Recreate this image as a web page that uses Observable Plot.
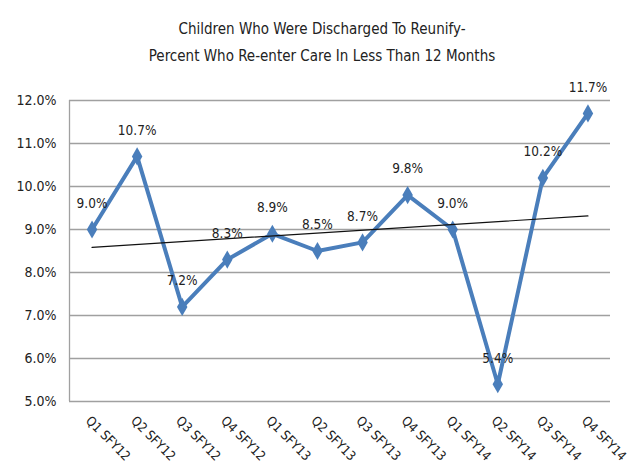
<!DOCTYPE html>
<html>
<head>
<meta charset="utf-8">
<script src="https://cdn.jsdelivr.net/npm/d3@7"></script>
<script src="https://cdn.jsdelivr.net/npm/@observablehq/plot@0.6"></script>
<style>
  html, body { margin: 0; padding: 0; background: #fff; }
  body { width: 644px; height: 468px; overflow: hidden; font-family: "DejaVu Sans Condensed", sans-serif; }
  #title { height: 80px; box-sizing: border-box; padding-top: 16px; text-align: center; font-size: 15px; line-height: 27px; color: #222; }
  #title div { height: 27px; }
</style>
</head>
<body>
<div id="title"><div>Children Who Were Discharged To Reunify-</div><div>Percent Who Re-enter Care In Less Than 12 Months</div></div>
<div id="chart"></div>
<script>
const categories = ["Q1 SFY12","Q2 SFY12","Q3 SFY12","Q4 SFY12","Q1 SFY13","Q2 SFY13","Q3 SFY13","Q4 SFY13","Q1 SFY14","Q2 SFY14","Q3 SFY14","Q4 SFY14"];
const values = [9.0, 10.7, 7.2, 8.3, 8.9, 8.5, 8.7, 9.8, 9.0, 5.4, 10.2, 11.7];
const yTicks = [5, 6, 7, 8, 9, 10, 11, 12];

const data = categories.map((c, i) => ({i, c, v: values[i]}));
const xDomain = [-0.5, categories.length - 0.5];
const fmt = d => d.toFixed(1) + "%";

const chart = Plot.plot({
  width: 644,
  height: 388,
  marginTop: 20,
  marginBottom: 67,
  marginLeft: 69,
  marginRight: 34,
  style: {fontFamily: '"DejaVu Sans Condensed", sans-serif', fontSize: "14px", color: "#222", background: "#fff"},
  x: {domain: xDomain, ticks: d3.range(categories.length), tickFormat: i => categories[i], tickRotate: 45, tickSize: 0, label: null},
  y: {domain: [yTicks[0], yTicks[yTicks.length - 1]], ticks: yTicks, tickFormat: fmt, tickSize: 0, tickPadding: 13, label: null},
  marks: [
    Plot.gridY(yTicks, {stroke: "#a0a0a0", strokeOpacity: 1, strokeWidth: 1.3}),
    Plot.ruleX([xDomain[0]], {stroke: "#a0a0a0", strokeWidth: 1.3}),
    Plot.axisX({ticks: d3.range(categories.length), tickFormat: i => categories[i], tickRotate: 45, tickSize: 0, tickPadding: 17, dx: -4, fontSize: 13, label: null}),
    Plot.line(data, {x: "i", y: "v", stroke: "#4A7EBB", strokeWidth: 4, strokeLinejoin: "miter"}),
    Plot.dot(data, {x: "i", y: "v", symbol: "diamond", fill: "#4A7EBB", r: 5.5}),
    Plot.linearRegressionY(data, {x: "i", y: "v", stroke: "#111", strokeWidth: 1.2, ci: 0}),
    Plot.text(data, {x: "i", y: "v", text: d => fmt(d.v), dy: -26, fill: "#222", fontSize: 13.5})
  ]
});
document.getElementById("chart").appendChild(chart);
</script>
</body>
</html>
